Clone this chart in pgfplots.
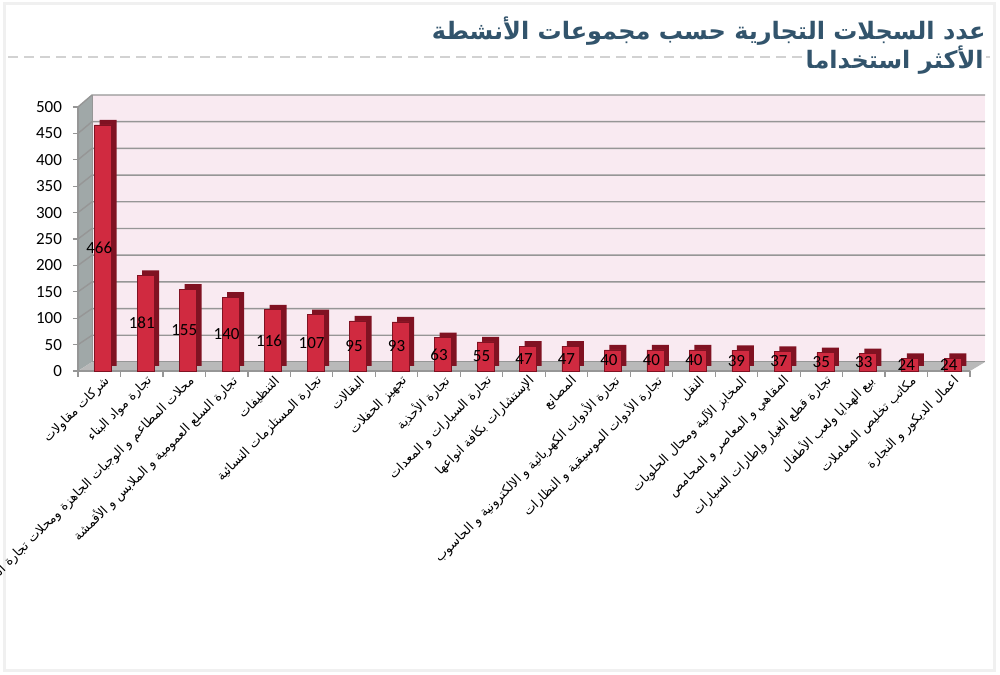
\documentclass[border=0pt]{standalone}
\usepackage{pgfplots}
\pgfplotsset{compat=1.18}
\usepackage{fontspec}
\setmainfont{Carlito}
\newfontfamily\arabicfont[Script=Arabic]{DejaVu Sans}
\TeXXeTstate=1
\definecolor{wall}{RGB}{249,234,241}
\definecolor{gridc}{RGB}{150,150,150}
\definecolor{sidewall}{RGB}{160,168,168}
\definecolor{floorc}{RGB}{185,185,185}
\definecolor{barred}{RGB}{208,42,64}
\definecolor{bardark}{RGB}{128,18,34}
\definecolor{titlec}{RGB}{50,84,108}
\begin{document}
\begin{tikzpicture}
\begin{scope}[x=0.5pt,y=-0.5pt,yshift=337pt]
 \fill[white] (0,0) rectangle (1000,674);
 \draw[gray!12,line width=1.5pt] (4,4) rectangle (994,670);
 \draw[gray!35,line width=0.6pt,dash pattern=on 5pt off 3pt] (8,57)--(990,57);
 \node[anchor=east,text=titlec,font=\arabicfont\bfseries\fontsize{12}{14}\selectfont,inner sep=0pt] at (986,31) {\beginR عدد السجلات التجارية حسب مجموعات الأنشطة\endR};
 \node[anchor=east,text=titlec,fill=white,font=\arabicfont\bfseries\fontsize{12}{14}\selectfont,inner sep=1pt] at (986,60) {\beginR الأكثر استخداما\endR};
 \fill[wall] (92,95) rectangle (985,362);
 \fill[sidewall] (78,371) -- (92,362) -- (92,95) -- (78,107) -- cycle;
 \fill[floorc] (78,371) -- (970,371) -- (985,362) -- (92,362) -- cycle;
 \foreach \v in {50,100,...,500} {
   \draw[gridc,line width=0.7pt] (78,{371-0.528*\v}) -- (92,{362-0.534*\v}) -- (985,{362-0.534*\v});
 }
 \draw[gridc,line width=0.5pt] (92,95)--(92,362)--(985,362);
\end{scope}
\begin{axis}[
  at={(39pt,151.5pt)}, anchor=south west,
  scale only axis, width=446pt, height=132pt,
  xmin=-0.5, xmax=20.5, ymin=0, ymax=500,
  clip=false,
  axis x line*=bottom, axis y line*=left,
  axis line style={gridc, line width=0.7pt},
  tick align=outside,
  ytick={0,50,...,500},
  xtick={0,...,20},
  minor xtick={-0.5,0.5,...,20.5},
  major x tick style={draw=none},
  minor tick length=3pt,
  major tick length=2.5pt,
  tick style={gridc, line width=0.6pt},
  /pgf/number format/assume math mode=true,
  yticklabel style={font=\fontsize{8.5}{9}\selectfont, xshift=-2pt},
  xticklabel style={rotate=45, anchor=east, font=\arabicfont\fontsize{6.4}{7}\selectfont, inner sep=1pt, yshift=-4pt, xshift=3pt},
  xticklabels={
   {\beginR شركات مقاولات\endR},
   {\beginR تجارة مواد البناء\endR},
   {\beginR محلات المطاعم و الوجبات الجاهزة ومحلات تجارة المواد\endR},
   {\beginR تجارة السلع العمومية و الملابس و الأقمشة\endR},
   {\beginR التنظيفات\endR},
   {\beginR تجارة المستلزمات النسائية\endR},
   {\beginR البقالات\endR},
   {\beginR تجهيز الحفلات\endR},
   {\beginR تجارة الأحذية\endR},
   {\beginR تجارة السيارات و المعدات\endR},
   {\beginR الإستشارات بكافة انواعها\endR},
   {\beginR المصانع\endR},
   {\beginR تجارة الأدوات الكهربائية و الالكترونية و الحاسوب\endR},
   {\beginR تجارة الأدوات الموسيقية و النظارات\endR},
   {\beginR النقل\endR},
   {\beginR المخابز الآلية ومحال الحلويات\endR},
   {\beginR المقاهي و المعاصر و المحامص\endR},
   {\beginR تجارة قطع الغيار وإطارات السيارات\endR},
   {\beginR بيع الهدايا ولعب الأطفال\endR},
   {\beginR مكاتب تخليص المعاملات\endR},
   {\beginR اعمال الديكور و النجارة\endR}},
]
\addplot[ybar, bar width=8.5pt, bar shift=2pt, fill=bardark, draw=none, xshift=2.5pt, yshift=2.5pt]
 coordinates {(0,466)(1,181)(2,155)(3,140)(4,116)(5,107)(6,95)(7,93)(8,63)(9,55)(10,47)(11,47)(12,40)(13,40)(14,40)(15,39)(16,37)(17,35)(18,33)(19,24)(20,24)};
\addplot[ybar, bar width=8.5pt, bar shift=2pt, fill=barred, draw=bardark, line width=0.3pt,
  visualization depends on={y \as \rawy},
  nodes near coords,
  every node near coord/.append style={anchor=center, text=black, font=\fontsize{8.5}{9}\selectfont, shift={(axis direction cs:0,-\rawy/2)}}]
 coordinates {(0,466)(1,181)(2,155)(3,140)(4,116)(5,107)(6,95)(7,93)(8,63)(9,55)(10,47)(11,47)(12,40)(13,40)(14,40)(15,39)(16,37)(17,35)(18,33)(19,24)(20,24)};
\end{axis}
\pgfresetboundingbox
\path[use as bounding box] (0,0) rectangle (500pt,337pt);
\end{tikzpicture}
\end{document}
